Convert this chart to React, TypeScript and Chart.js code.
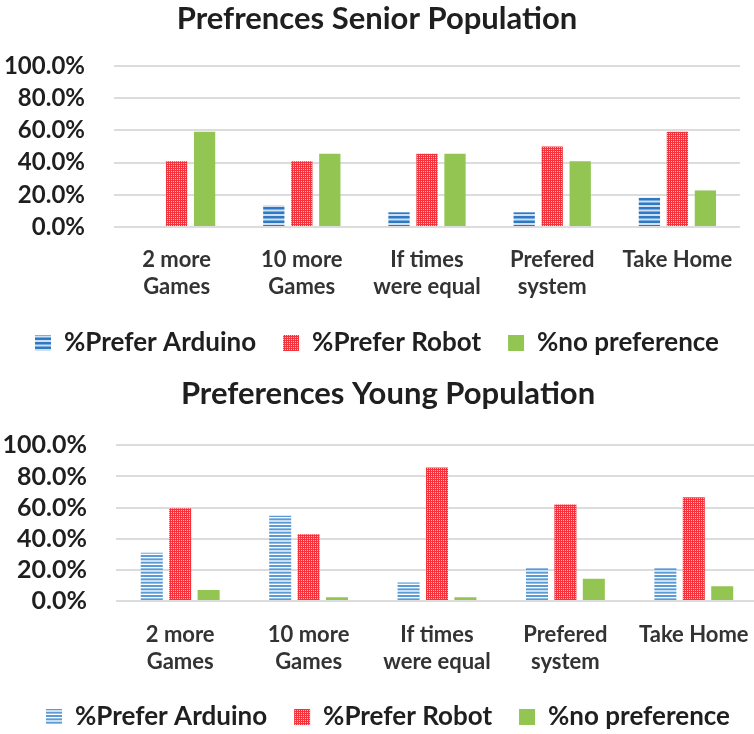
import React, { useEffect, useRef } from 'react';
import { Chart, registerables } from 'chart.js';
Chart.register(...registerables);

const categories: string[][] = [
  ['2 more', 'Games'],
  ['10 more', 'Games'],
  ['If times', 'were equal'],
  ['Prefered', 'system'],
  ['Take Home'],
];
const seriesNames = ['%Prefer Arduino', '%Prefer Robot', '%no preference'];
const yTicks = [0, 20, 40, 60, 80, 100];

const seniorTitle = 'Prefrences Senior Population';
const seniorArduino = [0, 13.6, 9.1, 9.1, 18.2];
const seniorRobot = [40.9, 40.9, 45.5, 50.0, 59.1];
const seniorNone = [59.1, 45.5, 45.5, 40.9, 22.7];

const youngTitle = 'Preferences Young Population';
const youngArduino = [31.0, 54.8, 11.9, 21.4, 21.4];
const youngRobot = [59.5, 42.9, 85.7, 61.9, 66.7];
const youngNone = [7.1, 2.4, 2.4, 14.3, 9.5];

const FONT = 'Lato';

function makeStripes(color: string, bg: string, tileH: number, count: number, thick: number) {
  const c = document.createElement('canvas');
  c.width = 8;
  c.height = tileH;
  const ctx = c.getContext('2d')!;
  ctx.fillStyle = bg;
  ctx.fillRect(0, 0, 8, tileH);
  ctx.fillStyle = color;
  const p = tileH / count;
  for (let i = 0; i < count; i++) ctx.fillRect(0, i * p, 8, thick);
  return ctx.createPattern(c, 'repeat')!;
}

function makeChecker(a: string, b: string) {
  const c = document.createElement('canvas');
  c.width = 2;
  c.height = 2;
  const ctx = c.getContext('2d')!;
  ctx.fillStyle = a;
  ctx.fillRect(0, 0, 2, 2);
  ctx.fillStyle = b;
  ctx.fillRect(1, 1, 1, 1);
  return ctx.createPattern(c, 'repeat')!;
}

type Props = {
  title: string;
  arduino: number[];
  robot: number[];
  none: number[];
  top: number;
  w: number;
  h: number;
  rightGap: number;
  padBottom: number;
  yWidth: number;
  titleBottom: number;
  xHeight: number;
  xPad: number;
  yFont: number;
  catPct: number;
  barPct: number;
  stripe: string;
  stripeBg: string;
  stripeTile: number;
  stripeCount: number;
  stripeThick: number;
};

function PrefChart(p: Props) {
  const ref = useRef<HTMLCanvasElement>(null);
  useEffect(() => {
    const cv = ref.current!;
    const stripes = makeStripes(p.stripe, p.stripeBg, p.stripeTile, p.stripeCount, p.stripeThick);
    const checker = makeChecker('#f5323c', '#ffb3b7');
    const chart = new Chart(cv, {
      type: 'bar',
      data: {
        labels: categories,
        datasets: [
          { label: seriesNames[0], data: p.arduino, backgroundColor: stripes, borderWidth: 0 },
          { label: seriesNames[1], data: p.robot, backgroundColor: checker, borderWidth: 0 },
          { label: seriesNames[2], data: p.none, backgroundColor: '#92c551', borderWidth: 0 },
        ],
      },
      options: {
        responsive: false,
        animation: false,
        devicePixelRatio: 1,
        datasets: { bar: { categoryPercentage: p.catPct, barPercentage: p.barPct } },
        layout: { padding: { left: 0, right: 0, top: 0, bottom: p.padBottom } },
        plugins: {
          tooltip: { enabled: false },
          title: {
            display: true,
            text: p.title,
            color: '#1f1f1f',
            font: { family: FONT, size: 31, weight: 'bold', lineHeight: 1.2 },
            padding: { top: 0, bottom: p.titleBottom },
          },
          legend: {
            position: 'bottom',
            labels: {
              color: '#1f1f1f',
              font: { family: FONT, size: 26, weight: 'bold' },
              boxWidth: 16,
              boxHeight: 16,
              padding: 27,
            },
          },
        },
        scales: {
          x: {
            grid: { display: false },
            border: { display: false },
            ticks: {
              color: '#333333',
              font: { family: FONT, size: 22, weight: 'bold', lineHeight: 1.25 },
              padding: p.xPad,
              maxRotation: 0,
              autoSkip: false,
            },
            afterFit: (s: any) => {
              s.height = p.xHeight;
            },
          },
          y: {
            min: 0,
            max: 100,
            border: { display: false },
            grid: { color: '#dcdcdc', lineWidth: 2, drawTicks: false },
            afterBuildTicks: (s: any) => {
              s.ticks = yTicks.map((v) => ({ value: v }));
            },
            ticks: {
              color: '#1f1f1f',
              font: { family: FONT, size: p.yFont, weight: 'bold' },
              padding: 29,
              autoSkip: false,
              callback: (v: any) => Number(v).toFixed(1) + '%',
            },
            afterFit: (s: any) => {
              s.width = p.yWidth;
            },
          },
          gap: {
            type: 'linear',
            position: 'right',
            grid: { display: false, drawTicks: false },
            border: { display: false },
            ticks: { display: false },
            afterFit: (s: any) => {
              s.width = p.rightGap;
            },
          },
        },
      },
    });
    return () => chart.destroy();
  }, []);
  return (
    <canvas
      ref={ref}
      width={p.w}
      height={p.h}
      style={{ position: 'absolute', left: 0, top: p.top, width: p.w, height: p.h }}
    />
  );
}

export default function App() {
  return (
    <div
      style={{
        position: 'fixed',
        left: 0,
        top: 0,
        width: 754,
        height: 734,
        overflow: 'hidden',
        background: '#ffffff',
      }}
    >
      <PrefChart
        title={seniorTitle}
        arduino={seniorArduino}
        robot={seniorRobot}
        none={seniorNone}
        top={0}
        w={754}
        h={375}
        rightGap={14}
        padBottom={9}
        yWidth={114}
        titleBottom={28.8}
        xHeight={76}
        xPad={11}
        yFont={24}
        catPct={0.671}
        barPct={0.76}
        stripe="#2e78c4"
        stripeBg="#cfe0f2"
        stripeTile={9}
        stripeCount={2}
        stripeThick={2.5}
      />
      <PrefChart
        title={youngTitle}
        arduino={youngArduino}
        robot={youngRobot}
        none={youngNone}
        top={375}
        w={776}
        h={365}
        rightGap={18}
        padBottom={0}
        yWidth={116}
        titleBottom={33.1}
        xHeight={76}
        xPad={12}
        yFont={25}
        catPct={0.664}
        barPct={0.775}
        stripe="#5b9bd5"
        stripeBg="#ffffff"
        stripeTile={10}
        stripeCount={3}
        stripeThick={2}
      />
    </div>
  );
}
